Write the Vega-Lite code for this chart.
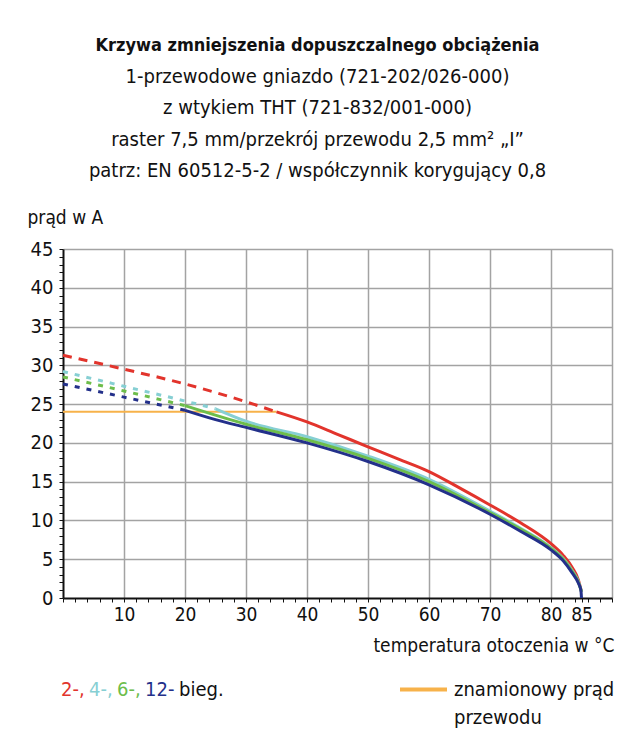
{
  "$schema": "https://vega.github.io/schema/vega-lite/v6.json",
  "width": 549,
  "height": 349,
  "autosize": {"type": "none"},
  "padding": {"left": 63, "top": 249, "right": 23, "bottom": 144},
  "background": "white",
  "config": {
    "font": "DejaVu Sans Condensed, Liberation Sans Narrow, Roboto, sans-serif",
    "view": {"stroke": null}
  },
  "title": {
    "text": "Krzywa zmniejszenia dopuszczalnego obciążenia",
    "subtitle": [
      "1-przewodowe gniazdo (721-202/026-000)",
      "z wtykiem THT (721-832/001-000)",
      "raster 7,5 mm/przekrój przewodu 2,5 mm² „I”",
      "patrz: EN 60512-5-2 / współczynnik korygujący 0,8"
    ],
    "anchor": "middle",
    "frame": "group",
    "dx": -20,
    "fontSize": 18,
    "fontWeight": "bold",
    "color": "#111111",
    "subtitleFontSize": 20,
    "subtitleColor": "#111111",
    "subtitleLineHeight": 31.5,
    "subtitlePadding": 12,
    "offset": 27
  },
  "datasets": {
    "rated": [
      {"temp": 0, "current": 24, "kind": "rated"},
      {"temp": 35, "current": 24, "kind": "rated"}
    ],
    "curves": [
      {"series": "2-,", "part": "extrapolated", "temp": 0, "current": 31.3},
      {"series": "2-,", "part": "extrapolated", "temp": 10, "current": 29.5},
      {"series": "2-,", "part": "extrapolated", "temp": 20, "current": 27.6},
      {"series": "2-,", "part": "extrapolated", "temp": 30, "current": 25.3},
      {"series": "2-,", "part": "extrapolated", "temp": 35, "current": 24.0},
      {"series": "2-,", "part": "derated", "temp": 35, "current": 24.0},
      {"series": "2-,", "part": "derated", "temp": 40, "current": 22.7},
      {"series": "2-,", "part": "derated", "temp": 45, "current": 21.1},
      {"series": "2-,", "part": "derated", "temp": 50, "current": 19.5},
      {"series": "2-,", "part": "derated", "temp": 55, "current": 17.9},
      {"series": "2-,", "part": "derated", "temp": 60, "current": 16.3},
      {"series": "2-,", "part": "derated", "temp": 65, "current": 14.2},
      {"series": "2-,", "part": "derated", "temp": 70, "current": 12.0},
      {"series": "2-,", "part": "derated", "temp": 75, "current": 9.7},
      {"series": "2-,", "part": "derated", "temp": 80, "current": 7.0},
      {"series": "2-,", "part": "derated", "temp": 82, "current": 5.5},
      {"series": "2-,", "part": "derated", "temp": 83.5, "current": 3.9},
      {"series": "2-,", "part": "derated", "temp": 84.5, "current": 2.3},
      {"series": "2-,", "part": "derated", "temp": 85, "current": 0.8},

      {"series": "4-,", "part": "extrapolated", "temp": 0, "current": 29.2},
      {"series": "4-,", "part": "extrapolated", "temp": 10, "current": 27.3},
      {"series": "4-,", "part": "extrapolated", "temp": 20, "current": 25.4},
      {"series": "4-,", "part": "extrapolated", "temp": 25, "current": 24.4},
      {"series": "4-,", "part": "derated", "temp": 25, "current": 24.4},
      {"series": "4-,", "part": "derated", "temp": 30, "current": 22.8},
      {"series": "4-,", "part": "derated", "temp": 40, "current": 20.8},
      {"series": "4-,", "part": "derated", "temp": 50, "current": 18.3},
      {"series": "4-,", "part": "derated", "temp": 60, "current": 15.3},
      {"series": "4-,", "part": "derated", "temp": 70, "current": 11.2},
      {"series": "4-,", "part": "derated", "temp": 75, "current": 9.0},
      {"series": "4-,", "part": "derated", "temp": 80, "current": 6.5},
      {"series": "4-,", "part": "derated", "temp": 82, "current": 5.1},
      {"series": "4-,", "part": "derated", "temp": 83.5, "current": 3.5},
      {"series": "4-,", "part": "derated", "temp": 84.5, "current": 2.1},
      {"series": "4-,", "part": "derated", "temp": 85, "current": 0.8},

      {"series": "6-,", "part": "extrapolated", "temp": 0, "current": 28.5},
      {"series": "6-,", "part": "extrapolated", "temp": 10, "current": 26.7},
      {"series": "6-,", "part": "extrapolated", "temp": 20, "current": 24.8},
      {"series": "6-,", "part": "derated", "temp": 20, "current": 24.8},
      {"series": "6-,", "part": "derated", "temp": 30, "current": 22.4},
      {"series": "6-,", "part": "derated", "temp": 40, "current": 20.4},
      {"series": "6-,", "part": "derated", "temp": 50, "current": 18.0},
      {"series": "6-,", "part": "derated", "temp": 60, "current": 15.0},
      {"series": "6-,", "part": "derated", "temp": 70, "current": 11.0},
      {"series": "6-,", "part": "derated", "temp": 75, "current": 8.9},
      {"series": "6-,", "part": "derated", "temp": 80, "current": 6.4},
      {"series": "6-,", "part": "derated", "temp": 82, "current": 5.0},
      {"series": "6-,", "part": "derated", "temp": 83.5, "current": 3.4},
      {"series": "6-,", "part": "derated", "temp": 84.5, "current": 2.0},
      {"series": "6-,", "part": "derated", "temp": 85, "current": 0.8},

      {"series": "12-", "part": "extrapolated", "temp": 0, "current": 27.6},
      {"series": "12-", "part": "extrapolated", "temp": 10, "current": 25.9},
      {"series": "12-", "part": "extrapolated", "temp": 20, "current": 24.2},
      {"series": "12-", "part": "derated", "temp": 20, "current": 24.2},
      {"series": "12-", "part": "derated", "temp": 25, "current": 23.0},
      {"series": "12-", "part": "derated", "temp": 30, "current": 22.0},
      {"series": "12-", "part": "derated", "temp": 40, "current": 20.0},
      {"series": "12-", "part": "derated", "temp": 50, "current": 17.6},
      {"series": "12-", "part": "derated", "temp": 60, "current": 14.6},
      {"series": "12-", "part": "derated", "temp": 70, "current": 10.8},
      {"series": "12-", "part": "derated", "temp": 75, "current": 8.6},
      {"series": "12-", "part": "derated", "temp": 80, "current": 6.2},
      {"series": "12-", "part": "derated", "temp": 82, "current": 4.8},
      {"series": "12-", "part": "derated", "temp": 83.5, "current": 3.2},
      {"series": "12-", "part": "derated", "temp": 84.5, "current": 1.9},
      {"series": "12-", "part": "derated", "temp": 84.9, "current": 1.0},
      {"series": "12-", "part": "derated", "temp": 85, "current": 0}
    ]
  },
  "layer": [
    {
      "data": {"name": "rated"},
      "mark": {"type": "line", "strokeWidth": 2},
      "encoding": {
        "x": {
          "field": "temp", "type": "quantitative",
          "scale": {"domain": [0, 90], "nice": false, "zero": false},
          "axis": {
            "values": [0,2,4,6,8,10,12,14,16,18,20,22,24,26,28,30,32,34,36,38,40,42,44,46,48,50,52,54,56,58,60,62,64,66,68,70,72,74,76,78,80,82,84,85,86,88,90],
            "tickCount": 200,
            "format": "d",
            "labelExpr": "((datum.value % 10 === 0 && datum.value > 0 && datum.value < 90) || datum.value === 85) ? datum.label : ''",
            "labelOverlap": false,
            "labelFlush": false,
            "labelFontSize": 19,
            "labelColor": "#111111",
            "labelPadding": 3,
            "tickSize": 4,
            "tickColor": "#111111",
            "tickWidth": 1,
            "domainColor": "#111111",
            "domainWidth": 2,
            "grid": true,
            "gridColor": "#a3a3a3",
            "gridWidth": 1.5,
            "gridOpacity": {"condition": {"test": "datum.value % 10 === 0 && datum.value > 0", "value": 1}, "value": 0},
            "title": "temperatura otoczenia w °C",
            "titleFontSize": 19,
            "titleFontWeight": "normal",
            "titleColor": "#111111",
            "titleAngle": 0,
            "titleAlign": "right",
            "titleBaseline": "middle",
            "titleX": 551,
            "titleY": 47
          }
        },
        "y": {
          "field": "current", "type": "quantitative",
          "scale": {"domain": [0, 45], "nice": false},
          "axis": {
            "values": [0,1,2,3,4,5,6,7,8,9,10,11,12,13,14,15,16,17,18,19,20,21,22,23,24,25,26,27,28,29,30,31,32,33,34,35,36,37,38,39,40,41,42,43,44,45],
            "tickCount": 200,
            "format": "d",
            "labelExpr": "datum.value % 5 === 0 ? datum.label : ''",
            "labelOverlap": false,
            "labelFlush": false,
            "labelFontSize": 20,
            "labelColor": "#111111",
            "labelPadding": 6,
            "tickSize": 4,
            "tickColor": "#111111",
            "tickWidth": 1,
            "domainColor": "#111111",
            "domainWidth": 2,
            "grid": true,
            "gridColor": "#a3a3a3",
            "gridWidth": 1.5,
            "gridOpacity": {"condition": {"test": "datum.value % 5 === 0 && datum.value > 0", "value": 1}, "value": 0},
            "title": "prąd w A",
            "titleFontSize": 19,
            "titleFontWeight": "normal",
            "titleColor": "#111111",
            "titleAngle": 0,
            "titleAlign": "left",
            "titleBaseline": "middle",
            "titleX": -36,
            "titleY": -32
          }
        },
        "color": {
          "field": "kind", "type": "nominal",
          "scale": {"domain": ["rated"], "range": ["#f7b24a"]},
          "legend": {
            "orient": "none",
            "legendX": 335,
            "legendY": 415,
            "title": null,
            "symbolType": "stroke",
            "symbolSize": 2209,
            "symbolStrokeWidth": 4,
            "labelFontSize": 20,
            "labelColor": "#111111",
            "labelOffset": 5,
            "labelLimit": 300,
            "labelExpr": "['znamionowy prąd', 'przewodu']",
            "encode": {
              "symbols": {"update": {"stroke": {"value": "#f39233"}}},
              "labels": {"update": {"lineHeight": {"value": 28}}}
            }
          }
        }
      }
    },
    {
      "data": {"name": "curves"},
      "transform": [{"filter": "datum.part === 'extrapolated'"}],
      "mark": {"type": "line", "strokeWidth": 3, "interpolate": "monotone"},
      "encoding": {
        "x": {"field": "temp", "type": "quantitative"},
        "y": {"field": "current", "type": "quantitative"},
        "stroke": {
          "field": "series", "type": "nominal",
          "scale": {"domain": ["2-,", "4-,", "6-,", "12-", "bieg."], "range": ["#e2342c", "#86cfd3", "#6dbd4b", "#23308a", "#111111"]},
          "legend": {
            "orient": "none",
            "legendX": -2,
            "legendY": 431,
            "direction": "horizontal",
            "gridAlign": "none",
            "title": null,
            "symbolType": "circle",
            "symbolSize": 0.01,
            "symbolOpacity": 0,
            "labelOffset": -20,
            "columnPadding": 4,
            "labelFontSize": 20,
            "encode": {
              "symbols": {"update": {"size": {"value": 0}, "opacity": {"value": 0}}},
              "labels": {"update": {"fill": {"signal": "scale('stroke', datum.value)"}}}
            }
          }
        },
        "strokeDash": {"condition": {"test": "datum.series === '2-,'", "value": [9, 7]}, "value": [5, 7]},
        "detail": {"field": "series", "type": "nominal"}
      }
    },
    {
      "data": {"name": "curves"},
      "transform": [{"filter": "datum.part === 'derated'"}],
      "mark": {"type": "line", "strokeWidth": 3, "interpolate": "monotone"},
      "encoding": {
        "x": {"field": "temp", "type": "quantitative"},
        "y": {"field": "current", "type": "quantitative"},
        "stroke": {
          "field": "series", "type": "nominal",
          "scale": {"domain": ["2-,", "4-,", "6-,", "12-", "bieg."], "range": ["#e2342c", "#86cfd3", "#6dbd4b", "#23308a", "#111111"]},
          "legend": {
            "orient": "none",
            "legendX": -2,
            "legendY": 431,
            "direction": "horizontal",
            "gridAlign": "none",
            "title": null,
            "symbolType": "circle",
            "symbolSize": 0.01,
            "symbolOpacity": 0,
            "labelOffset": -20,
            "columnPadding": 4,
            "labelFontSize": 20,
            "encode": {
              "symbols": {"update": {"size": {"value": 0}, "opacity": {"value": 0}}},
              "labels": {"update": {"fill": {"signal": "scale('stroke', datum.value)"}}}
            }
          }
        }
      }
    }
  ]
}
